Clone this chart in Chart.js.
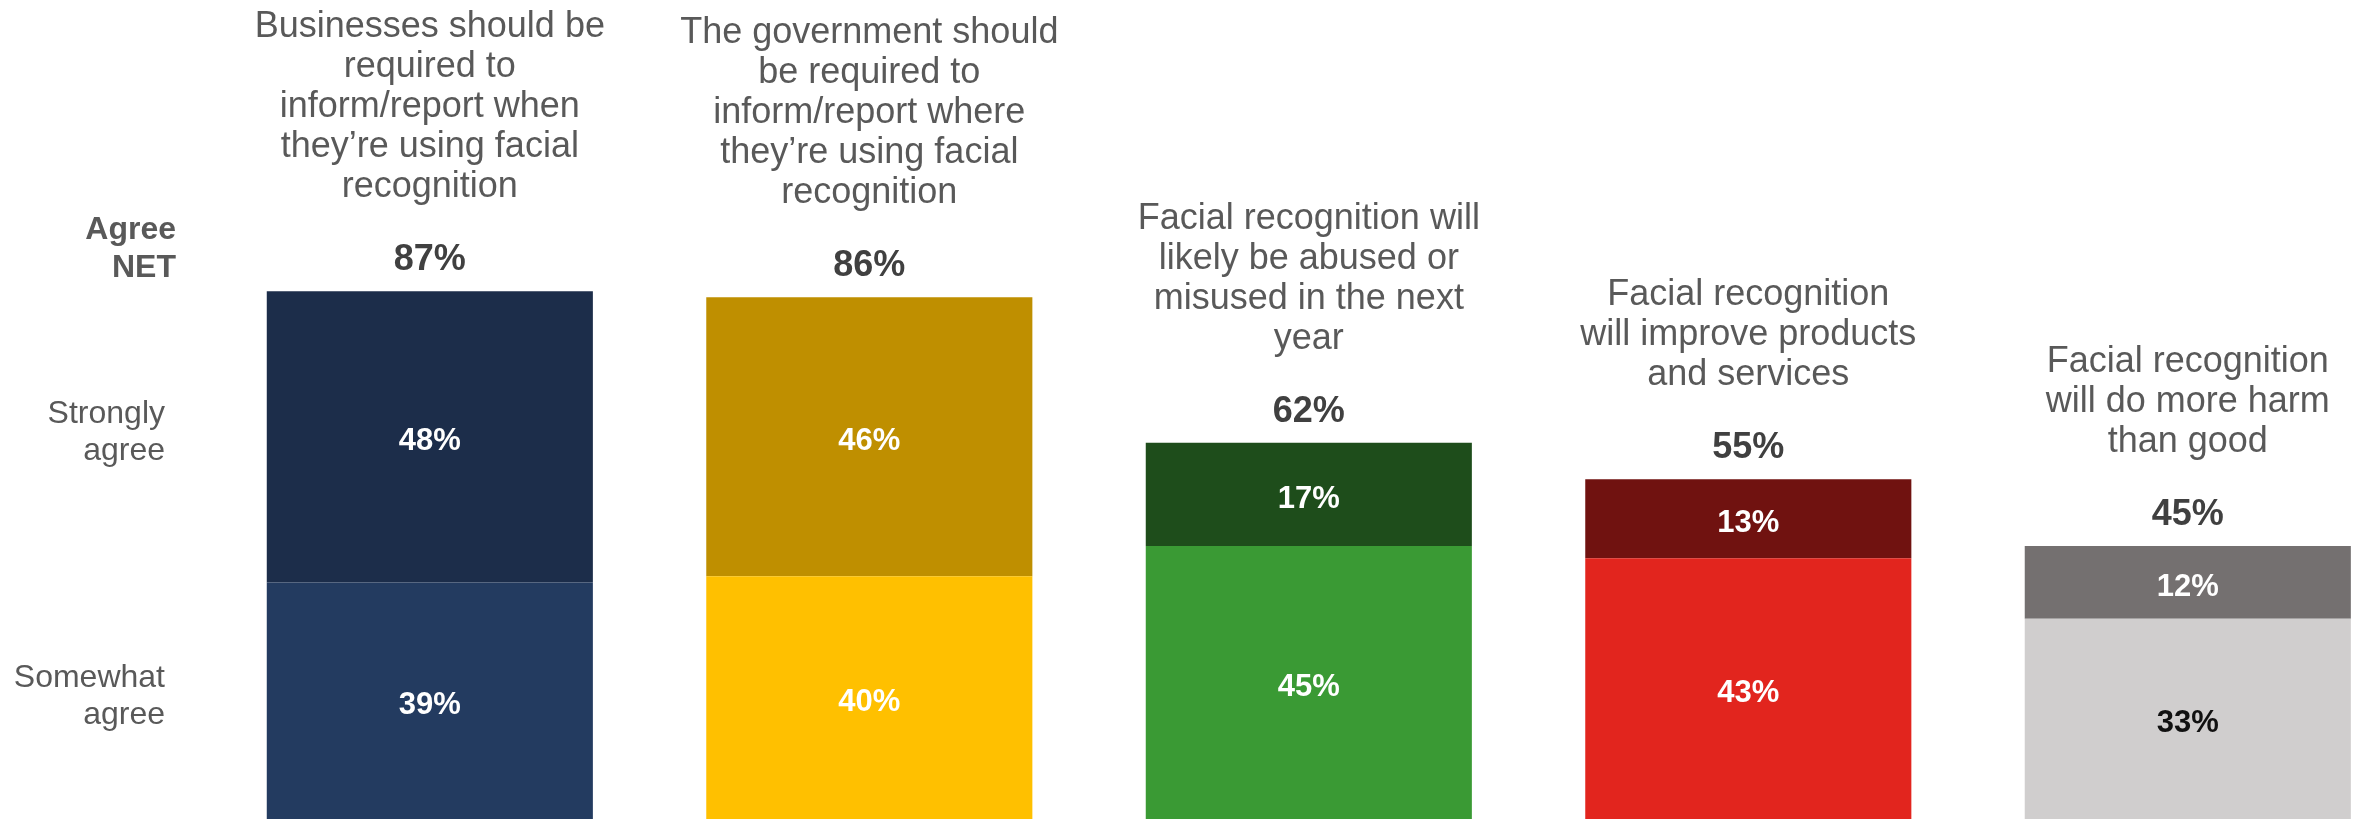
<!DOCTYPE html>
<html>
<head>
<meta charset="utf-8">
<script src="https://cdn.jsdelivr.net/npm/chart.js@4/dist/chart.umd.min.js"></script>
<style>
  html, body { margin: 0; padding: 0; background: #ffffff; }
  #wrap { width: 2357px; height: 819px; position: relative; }
</style>
</head>
<body>
<div id="wrap"><canvas id="c"></canvas></div>
<script>
// ---- Data ----
const categories = [
  ["Businesses should be", "required to", "inform/report when", "they\u2019re using facial", "recognition"],
  ["The government should", "be required to", "inform/report where", "they\u2019re using facial", "recognition"],
  ["Facial recognition will", "likely be abused or", "misused in the next", "year"],
  ["Facial recognition", "will improve products", "and services"],
  ["Facial recognition", "will do more harm", "than good"]
];
const seriesNames = ["Somewhat agree", "Strongly agree"];
const somewhatAgree = [39, 40, 45, 43, 33];
const stronglyAgree = [48, 46, 17, 13, 12];
const agreeNet = [87, 86, 62, 55, 45];
const somewhatColors = ["#233B60", "#FFC000", "#3A9A34", "#E2251E", "#D0CECE"];
const stronglyColors = ["#1C2D4A", "#BF8F00", "#1E4D1B", "#701210", "#747070"];
const somewhatLabelColors = ["#FFFFFF", "#FFFFFF", "#FFFFFF", "#FFFFFF", "#111111"];
const stronglyLabelColors = ["#FFFFFF", "#FFFFFF", "#FFFFFF", "#FFFFFF", "#FFFFFF"];

const FONT = "'Liberation Sans', Arial, Helvetica, sans-serif";

const labelsPlugin = {
  id: 'customLabels',
  afterDatasetsDraw(chart) {
    const ctx = chart.ctx;
    const area = chart.chartArea;
    const mSome = chart.getDatasetMeta(0);
    const mStrong = chart.getDatasetMeta(1);
    ctx.save();
    ctx.textAlign = 'center';

    const segLabel = (el, val, color) => {
      const top = Math.max(el.y, area.top);
      const base = Math.min(el.base, area.bottom);
      ctx.fillStyle = color;
      ctx.font = "bold 31px " + FONT;
      ctx.textBaseline = 'middle';
      ctx.fillText(val + '%', el.x, (top + base) / 2 + 5);
    };

    for (let i = 0; i < categories.length; i++) {
      const s = mSome.data[i];
      const t = mStrong.data[i];
      segLabel(s, somewhatAgree[i], somewhatLabelColors[i]);
      segLabel(t, stronglyAgree[i], stronglyLabelColors[i]);

      // NET label
      const barTop = t.y;
      const netBase = barTop - 21;
      ctx.textBaseline = 'alphabetic';
      ctx.fillStyle = '#404040';
      ctx.font = "bold 36px " + FONT;
      ctx.fillText(agreeNet[i] + '%', t.x, netBase);

      // Title
      ctx.fillStyle = '#595959';
      ctx.font = "36px " + FONT;
      const lines = categories[i];
      const lastBase = barTop - 94;
      for (let k = 0; k < lines.length; k++) {
        ctx.fillText(lines[k], t.x, lastBase - (lines.length - 1 - k) * 40);
      }
    }

    // Left side labels
    ctx.textAlign = 'right';
    ctx.textBaseline = 'alphabetic';
    ctx.fillStyle = '#595959';
    ctx.font = "bold 32px " + FONT;
    ctx.fillText('Agree', 176, 239);
    ctx.fillText('NET', 176, 277);

    ctx.font = "32px " + FONT;
    const s0 = mSome.data[0], t0 = mStrong.data[0];
    const cStrong = (Math.max(t0.y, area.top) + Math.min(t0.base, area.bottom)) / 2;
    const cSome = (Math.max(s0.y, area.top) + Math.min(s0.base, area.bottom)) / 2;
    ctx.fillText('Strongly', 165, cStrong - 14);
    ctx.fillText('agree', 165, cStrong + 23);
    ctx.fillText('Somewhat', 165, cSome - 14);
    ctx.fillText('agree', 165, cSome + 23);
    ctx.restore();
  }
};

const idx = categories.map((_, i) => i);
new Chart(document.getElementById('c'), {
  type: 'bar',
  data: {
    datasets: [
      {
        label: seriesNames[0],
        data: idx.map(i => ({ x: i, y: somewhatAgree[i] })),
        backgroundColor: somewhatColors,
        borderWidth: 0
      },
      {
        label: seriesNames[1],
        data: idx.map(i => ({ x: i, y: stronglyAgree[i] })),
        backgroundColor: stronglyColors,
        borderWidth: 0
      }
    ]
  },
  options: {
    responsive: true,
    maintainAspectRatio: false,
    animation: false,
    layout: { padding: 0 },
    barPercentage: 0.742,
    categoryPercentage: 1,
    plugins: { legend: { display: false }, tooltip: { enabled: false } },
    scales: {
      x: {
        type: 'linear',
        stacked: true,
        display: false,
        offset: false,
        min: -0.978,
        max: 4.385,
        ticks: { stepSize: 1, includeBounds: false }
      },
      y: {
        stacked: true,
        display: false,
        min: 0,
        max: 135
      }
    }
  },
  plugins: [labelsPlugin]
});
</script>
</body>
</html>
